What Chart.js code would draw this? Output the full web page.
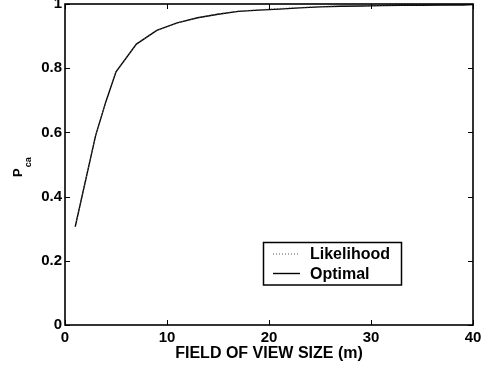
<!DOCTYPE html>
<html>
<head>
<meta charset="utf-8">
<script src="https://cdn.jsdelivr.net/npm/chart.js@4/dist/chart.umd.min.js"></script>
<style>
  body { margin: 0; background: #fff; }
  #wrap { width: 491px; height: 369px; }
</style>
</head>
<body>
<div id="wrap"><canvas id="fovChart" width="491" height="369"></canvas></div>
<script>
// field of view size (m)
const fovSizes = [1, 3, 4, 5, 7, 9, 11, 13, 15, 17, 19, 21, 23, 25, 27, 29, 31, 33, 35, 37, 39, 40];
const optimal = [0.306, 0.59, 0.695, 0.789, 0.875, 0.918, 0.941, 0.957, 0.968, 0.977, 0.981, 0.984, 0.988, 0.991, 0.993, 0.994, 0.995, 0.996, 0.996, 0.997, 0.997, 0.998];
const likelihood = [0.306, 0.59, 0.695, 0.789, 0.875, 0.918, 0.941, 0.957, 0.969, 0.978, 0.982, 0.986, 0.989, 0.992, 0.994, 0.995, 0.996, 0.997, 0.997, 0.998, 0.998, 0.999];
const xTicks = [0, 10, 20, 30, 40];
const yTicks = [0, 0.2, 0.4, 0.6, 0.8, 1];

const FONT = 'Liberation Sans, Arial, Helvetica, sans-serif';

function toPoints(xs, ys) {
    return xs.map((x, i) => ({ x: x, y: ys[i] }));
}

// box, inward ticks, y title with subscript, legend
const matlabLook = {
    id: 'matlabLook',
    afterDraw(chart) {
        const ctx = chart.ctx;
        const a = chart.chartArea;
        const xs = chart.scales.x;
        const ys = chart.scales.y;
        ctx.save();
        ctx.strokeStyle = '#000';
        ctx.lineWidth = 1.6;
        ctx.strokeRect(a.left, a.top, a.right - a.left, a.bottom - a.top);

        ctx.lineWidth = 1;
        ctx.beginPath();
        xTicks.forEach(v => {
            const px = Math.round(xs.getPixelForValue(v)) + 0.5;
            ctx.moveTo(px, a.bottom); ctx.lineTo(px, a.bottom - 5);
            ctx.moveTo(px, a.top); ctx.lineTo(px, a.top + 5);
        });
        yTicks.forEach(v => {
            const py = Math.round(ys.getPixelForValue(v)) + 0.5;
            ctx.moveTo(a.left, py); ctx.lineTo(a.left + 5, py);
            ctx.moveTo(a.right, py); ctx.lineTo(a.right - 5, py);
        });
        ctx.stroke();

        // y axis title P_ca
        ctx.fillStyle = '#000';
        ctx.translate(22, 177);
        ctx.rotate(-Math.PI / 2);
        ctx.textBaseline = 'alphabetic';
        ctx.textAlign = 'left';
        ctx.font = 'bold 13px ' + FONT;
        ctx.fillText('P', 0, 0);
        const pw = ctx.measureText('P').width;
        ctx.font = 'bold 9px ' + FONT;
        ctx.fillText('ca', pw + 1, 9);
        ctx.restore();

        // legend
        ctx.save();
        ctx.strokeStyle = '#000';
        ctx.lineWidth = 1.5;
        ctx.fillStyle = '#fff';
        ctx.fillRect(263.5, 242.5, 138, 42.5);
        ctx.strokeRect(263.5, 242.5, 138, 42.5);
        const rows = [{ y: 254, ds: chart.data.datasets[0] }, { y: 273.5, ds: chart.data.datasets[1] }];
        rows.forEach(r => {
            ctx.beginPath();
            ctx.strokeStyle = r.ds.borderColor;
            ctx.lineWidth = r.ds.borderWidth;
            ctx.setLineDash(r.ds.borderDash || []);
            ctx.moveTo(273, r.y);
            ctx.lineTo(300, r.y);
            ctx.stroke();
            ctx.setLineDash([]);
            ctx.fillStyle = '#000';
            ctx.font = 'bold 16px ' + FONT;
            ctx.textBaseline = 'middle';
            ctx.textAlign = 'left';
            ctx.fillText(r.ds.label, 310, r.y + 1);
        });
        ctx.restore();
    }
};

new Chart(document.getElementById('fovChart'),
{
    type: 'line',
    data:
    {
        datasets: [
            {
                label: 'Likelihood',
                data: toPoints(fovSizes, likelihood),
                borderColor: '#555',
                borderWidth: 1,
                borderDash: [1, 2],
                pointRadius: 0,
                tension: 0
            },
            {
                label: 'Optimal',
                data: toPoints(fovSizes, optimal),
                borderColor: '#000',
                borderWidth: 1.4,
                pointRadius: 0,
                tension: 0
            }
        ]
    },
    options:
    {
        responsive: false,
        animation: false,
        layout: { padding: { left: 0, top: 4, right: 18, bottom: 0 } },
        plugins:
        {
            legend: { display: false },
            tooltip: { enabled: false }
        },
        scales:
        {
            x:
            {
                type: 'linear',
                min: 0,
                max: 40,
                afterFit(scale) {
                    scale.height = 44;
                    scale.paddingLeft = 0;
                    scale.paddingRight = 0;
                },
                afterBuildTicks(scale) { scale.ticks = xTicks.map(v => ({ value: v })); },
                grid: { display: false, drawTicks: false },
                border: { display: false },
                ticks:
                {
                    color: '#000',
                    padding: 4,
                    maxRotation: 0,
                    callback: v => String(v),
                    font: { family: FONT, size: 15, weight: 'bold' }
                },
                title:
                {
                    display: true,
                    text: 'FIELD OF VIEW SIZE (m)',
                    color: '#000',
                    padding: { top: 0, bottom: 6 },
                    font: { family: FONT, size: 16, weight: 'bold' }
                }
            },
            y:
            {
                min: 0,
                max: 1,
                afterFit(scale) {
                    scale.width = 65;
                    scale.paddingTop = 0;
                    scale.paddingBottom = 0;
                },
                afterBuildTicks(scale) { scale.ticks = yTicks.map(v => ({ value: v })); },
                grid: { display: false, drawTicks: false },
                border: { display: false },
                ticks:
                {
                    color: '#000',
                    padding: 3,
                    callback: v => String(v),
                    font: { family: FONT, size: 15, weight: 'bold' }
                }
            }
        }
    },
    plugins: [matlabLook]
});
</script>
</body>
</html>
